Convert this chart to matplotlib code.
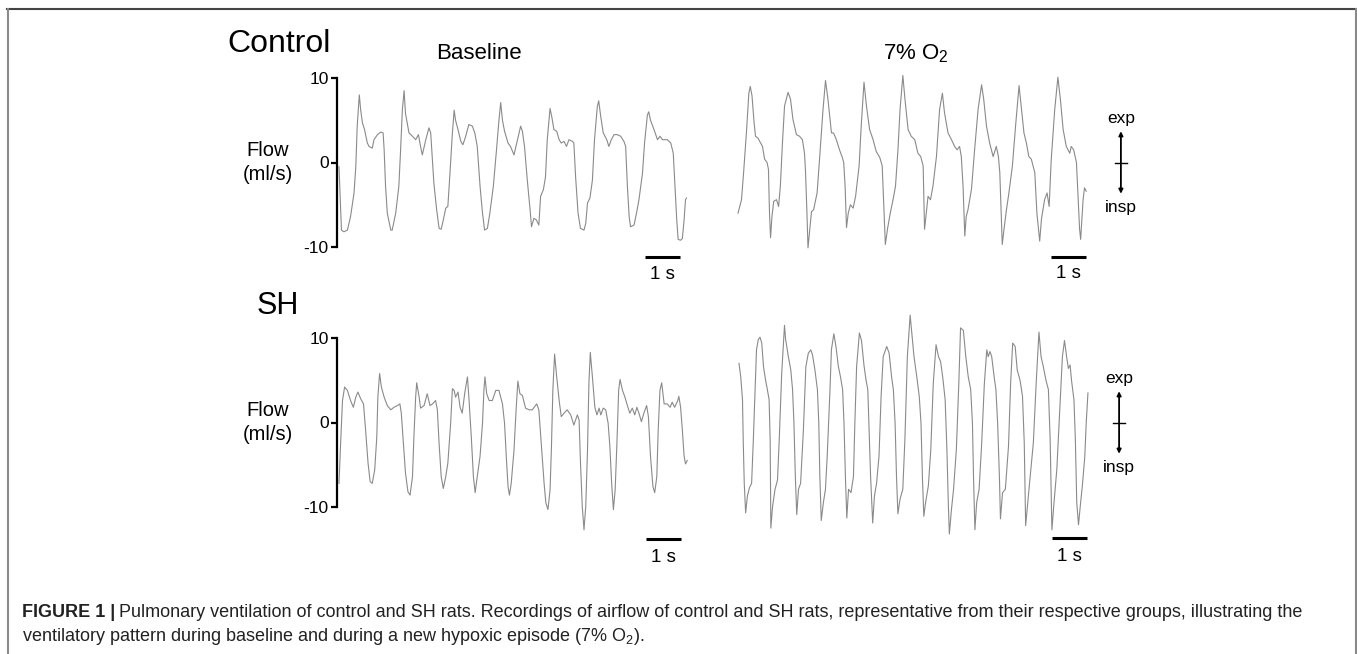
import matplotlib
matplotlib.use("Agg")
import matplotlib.pyplot as plt
from matplotlib.lines import Line2D
from matplotlib.transforms import Affine2D

plt.rcParams['font.family'] = ['Liberation Sans', 'DejaVu Sans']
plt.rcParams['mathtext.fontset'] = 'custom'
plt.rcParams['mathtext.rm'] = 'Liberation Sans'
plt.rcParams['axes.unicode_minus'] = False

# airflow traces: time (s), flow (ml/s)
ctrl_base_t = [0, 0.07, 0.14, 0.24, 0.33, 0.43, 0.48, 0.52, 0.58, 0.62, 0.67, 0.73, 0.81, 0.86, 0.95, 1.00,
               1.10, 1.19, 1.26, 1.29, 1.33, 1.38, 1.48, 1.52, 1.62, 1.71, 1.76, 1.81, 1.86, 1.90, 2.00, 2.10,
               2.19, 2.27, 2.33, 2.38, 2.48, 2.57, 2.62, 2.71, 2.79, 2.86, 2.92, 2.98, 3.05, 3.11, 3.17, 3.24,
               3.29, 3.33, 3.40, 3.48, 3.54, 3.62, 3.71, 3.81, 3.88, 3.95, 4.03, 4.10, 4.16, 4.24, 4.31, 4.41,
               4.50, 4.57, 4.62, 4.67, 4.73, 4.83, 4.90, 5.00, 5.10, 5.19, 5.24, 5.30, 5.38, 5.46, 5.50, 5.57,
               5.64, 5.71, 5.76, 5.84, 5.90, 5.95, 6.03, 6.08, 6.14, 6.22, 6.29, 6.35, 6.43, 6.50, 6.57, 6.67,
               6.71, 6.76, 6.83, 6.90, 7.00, 7.05, 7.10, 7.17, 7.24, 7.30, 7.38, 7.42, 7.48, 7.55, 7.65, 7.71,
               7.78, 7.86, 7.95, 8.05, 8.14, 8.19, 8.24, 8.29, 8.33, 8.43, 8.50, 8.57, 8.67, 8.73, 8.81, 8.85,
               8.90, 9.00, 9.10, 9.17, 9.24, 9.38, 9.48, 9.55, 9.60, 9.65, 9.69, 9.76, 9.81, 9.86, 9.90, 9.93]
ctrl_base_f = [-0.5, -8.0, -8.2, -8.0, -6.4, -3.6, -0.5, 4.3, 8.0, 6.2, 4.7, 3.9, 2.3, 1.9, 1.7, 2.7,
               3.3, 3.6, 3.5, 1.5, -2.8, -6.0, -8.0, -8.0, -6.0, -2.8, 1.5, 6.2, 8.5, 5.8, 3.5, 3.1,
               2.7, 3.3, 1.9, 0.9, 2.7, 4.1, 3.5, -2.4, -5.6, -7.8, -7.9, -6.8, -5.4, -5.2, -1.3, 3.5,
               6.2, 5.0, 3.9, 2.5, 2.1, 3.1, 4.5, 4.3, 3.5, 1.9, -2.8, -6.0, -8.0, -7.8, -6.0, -2.8,
               1.5, 5.0, 7.1, 5.0, 3.7, 2.3, 1.9, 0.9, 2.7, 4.3, 3.7, 1.9, -2.1, -5.6, -7.6, -6.6,
               -6.8, -7.4, -4.0, -3.2, -1.7, 2.7, 6.4, 5.4, 3.9, 3.7, 2.7, 2.3, 2.5, 1.9, 2.7, 2.5,
               2.3, -1.7, -6.0, -7.8, -8.0, -7.2, -4.8, -4.2, -2.1, 2.7, 6.6, 7.3, 5.4, 3.5, 2.7, 1.9,
               2.7, 3.3, 3.3, 3.1, 2.5, 1.9, -2.8, -6.4, -7.6, -7.4, -6.0, -4.4, -1.3, 2.3, 5.6, 6.0,
               5.0, 3.9, 2.7, 3.1, 2.7, 2.7, 2.3, 1.1, -2.8, -6.8, -9.1, -9.2, -9.0, -6.8, -4.4, -4.2]

ctrl_hyp_t = [0, 0.10, 0.16, 0.24, 0.31, 0.35, 0.40, 0.46, 0.50, 0.57, 0.62, 0.70, 0.76, 0.83, 0.87, 0.90,
              0.93, 0.97, 1.02, 1.10, 1.16, 1.21, 1.27, 1.33, 1.43, 1.50, 1.57, 1.67, 1.76, 1.84, 1.90, 1.93,
              1.97, 2.00, 2.05, 2.10, 2.16, 2.26, 2.33, 2.43, 2.50, 2.57, 2.67, 2.73, 2.81, 2.90, 2.98, 3.02,
              3.06, 3.10, 3.15, 3.21, 3.29, 3.36, 3.46, 3.52, 3.60, 3.67, 3.76, 3.86, 3.95, 4.05, 4.12, 4.17,
              4.21, 4.27, 4.35, 4.43, 4.50, 4.57, 4.63, 4.71, 4.77, 4.86, 4.95, 5.05, 5.14, 5.22, 5.29, 5.33,
              5.38, 5.43, 5.50, 5.57, 5.67, 5.76, 5.84, 5.90, 6.00, 6.10, 6.19, 6.26, 6.33, 6.38, 6.43, 6.48,
              6.52, 6.57, 6.67, 6.76, 6.86, 6.96, 7.02, 7.10, 7.19, 7.29, 7.38, 7.44, 7.48, 7.52, 7.55, 7.60,
              7.67, 7.74, 7.84, 7.93, 8.03, 8.10, 8.17, 8.24, 8.31, 8.38, 8.48, 8.54, 8.62, 8.67, 8.76, 8.83,
              8.89, 8.95, 9.05, 9.14, 9.21, 9.29, 9.38, 9.48, 9.52, 9.59, 9.67, 9.71, 9.76, 9.79, 9.86, 9.90,
              9.95]
ctrl_hyp_f = [-6.0, -4.4, -1.2, 3.5, 8.2, 9.0, 7.9, 4.7, 3.1, 2.9, 2.5, 1.9, 0.4, 0.0, -0.8, -6.0,
              -8.9, -6.4, -4.6, -4.4, -5.2, -2.8, 2.3, 6.7, 8.3, 7.5, 5.1, 3.3, 3.1, 2.7, 1.1, -1.2,
              -6.0, -10.1, -7.9, -5.8, -5.6, -3.6, 0.4, 6.3, 9.7, 7.5, 3.5, 3.5, 2.7, 1.5, 0.6, 0.0,
              -2.8, -7.7, -6.0, -5.0, -5.4, -4.0, -0.4, 4.3, 9.5, 6.7, 3.9, 2.7, 1.3, 0.6, -0.4, -5.6,
              -9.7, -7.9, -6.0, -4.4, -2.8, 1.5, 6.3, 10.3, 7.5, 3.9, 3.1, 2.7, 1.1, 0.7, -0.4, -7.9,
              -6.0, -4.0, -4.4, -2.8, 0.7, 6.3, 8.2, 5.9, 3.5, 2.7, 1.9, 1.5, 1.9, 0.7, -2.8, -8.7,
              -6.4, -5.6, -3.2, 1.5, 6.3, 9.2, 7.5, 4.3, 2.3, 0.7, 1.9, 0.7, -1.2, -6.0, -9.7, -7.9,
              -5.6, -3.6, -0.4, 4.3, 9.1, 6.3, 3.5, 2.3, 0.7, 0.4, -1.2, -6.0, -9.3, -6.7, -4.4, -3.6,
              -5.2, 0.4, 6.3, 10.1, 7.5, 3.9, 1.9, 1.1, 1.9, 1.5, 0.0, -3.6, -7.9, -9.1, -4.4, -3.0,
              -3.4]

sh_base_t = [0, 0.05, 0.10, 0.16, 0.24, 0.33, 0.41, 0.48, 0.54, 0.62, 0.70, 0.76, 0.83, 0.89, 0.95, 1.02,
             1.08, 1.11, 1.16, 1.21, 1.29, 1.38, 1.48, 1.57, 1.67, 1.74, 1.78, 1.84, 1.90, 1.97, 2.03, 2.10,
             2.14, 2.19, 2.22, 2.29, 2.33, 2.43, 2.52, 2.60, 2.67, 2.76, 2.81, 2.86, 2.92, 2.98, 3.05, 3.11,
             3.19, 3.24, 3.29, 3.33, 3.40, 3.46, 3.52, 3.59, 3.67, 3.71, 3.78, 3.84, 3.89, 3.95, 4.03, 4.10,
             4.14, 4.17, 4.22, 4.29, 4.38, 4.48, 4.57, 4.67, 4.73, 4.79, 4.83, 4.87, 4.92, 5.00, 5.06, 5.11,
             5.17, 5.24, 5.33, 5.43, 5.52, 5.65, 5.71, 5.78, 5.86, 5.91, 5.97, 6.03, 6.07, 6.11, 6.16, 6.22,
             6.29, 6.35, 6.43, 6.52, 6.62, 6.71, 6.81, 6.86, 6.90, 6.95, 7.00, 7.05, 7.10, 7.14, 7.18, 7.24,
             7.31, 7.37, 7.43, 7.48, 7.55, 7.62, 7.69, 7.74, 7.79, 7.84, 7.89, 7.94, 7.99, 8.03, 8.10, 8.17,
             8.24, 8.31, 8.38, 8.45, 8.51, 8.57, 8.64, 8.71, 8.79, 8.84, 8.90, 8.97, 9.02, 9.08, 9.12, 9.17,
             9.22, 9.29, 9.38, 9.46, 9.52, 9.59, 9.68, 9.71, 9.76, 9.81, 9.86, 9.90, 9.95]
sh_base_f = [-7.2, -2.1, 2.6, 4.2, 3.8, 2.6, 1.8, 3.0, 3.6, 2.8, 2.2, -0.9, -4.8, -7.0, -7.2, -5.6,
             -1.7, 3.0, 5.8, 4.2, 3.0, 2.0, 1.5, 1.8, 2.0, 2.2, 1.1, -2.5, -6.0, -8.2, -8.6, -6.4,
             -1.7, 3.0, 4.7, 3.0, 1.7, 2.0, 3.4, 2.0, 2.2, 2.6, 1.5, -2.5, -6.4, -7.8, -6.4, -4.8,
             -0.1, 4.0, 3.8, 3.0, 3.6, 1.8, 1.1, 3.4, 5.4, 3.0, -1.7, -6.4, -8.3, -6.4, -4.0, -0.1,
             3.8, 5.4, 3.4, 2.6, 2.6, 3.8, 3.8, 2.2, -0.1, -4.8, -7.6, -8.6, -7.2, -3.3, 1.5, 4.9,
             3.4, 3.2, 1.7, 1.5, 1.5, 2.2, 1.5, -2.5, -7.2, -9.5, -10.3, -8.0, -2.9, 3.8, 8.1, 5.4,
             2.6, 0.7, 1.1, 1.5, 0.9, -0.3, 0.9, 0.3, -4.8, -9.9, -12.7, -9.9, -3.3, 4.6, 8.3, 5.4,
             1.8, 0.9, 1.7, 0.9, 1.7, 1.5, -0.1, -2.9, -7.2, -10.3, -8.0, -2.5, 3.8, 5.1, 3.8, 3.0,
             2.0, 1.1, 1.7, 0.9, 1.8, 1.1, 0.1, 1.1, 2.0, 0.7, -4.0, -7.6, -8.3, -6.4, -0.9, 3.8,
             4.7, 2.2, 2.2, 1.8, 2.4, 1.8, 2.6, 3.1, 1.8, -0.9, -4.0, -4.9, -4.5]

sh_hyp_t = [0, 0.05, 0.10, 0.12, 0.15, 0.19, 0.24, 0.30, 0.36, 0.41, 0.46, 0.50, 0.55, 0.60, 0.65, 0.70,
            0.76, 0.81, 0.86, 0.89, 0.91, 0.96, 1.03, 1.10, 1.15, 1.22, 1.30, 1.33, 1.41, 1.48, 1.53, 1.57,
            1.61, 1.65, 1.70, 1.76, 1.84, 1.91, 1.98, 2.05, 2.10, 2.17, 2.24, 2.28, 2.31, 2.35, 2.41, 2.47,
            2.52, 2.60, 2.64, 2.71, 2.77, 2.84, 2.90, 2.96, 3.00, 3.04, 3.08, 3.13, 3.20, 3.27, 3.31, 3.36,
            3.44, 3.50, 3.57, 3.63, 3.68, 3.71, 3.76, 3.82, 3.87, 3.93, 4.00, 4.06, 4.12, 4.22, 4.29, 4.36,
            4.41, 4.46, 4.50, 4.54, 4.60, 4.68, 4.74, 4.81, 4.89, 4.93, 5.00, 5.08, 5.15, 5.20, 5.24, 5.28,
            5.33, 5.41, 5.48, 5.55, 5.63, 5.70, 5.76, 5.82, 5.89, 5.94, 5.98, 6.01, 6.07, 6.13, 6.21, 6.28,
            6.33, 6.41, 6.48, 6.55, 6.62, 6.67, 6.70, 6.74, 6.79, 6.86, 6.93, 7.01, 7.08, 7.12, 7.17, 7.22,
            7.29, 7.34, 7.39, 7.44, 7.47, 7.53, 7.61, 7.70, 7.76, 7.82, 7.89, 7.95, 8.03, 8.10, 8.15, 8.19,
            8.24, 8.31, 8.41, 8.49, 8.57, 8.63, 8.70, 8.77, 8.84, 8.89, 8.94, 9.00, 9.08, 9.17, 9.24, 9.30,
            9.36, 9.41, 9.46, 9.50, 9.57, 9.61, 9.65, 9.70, 9.76, 9.81, 9.88, 9.92, 9.97]
sh_hyp_f = [7.0, 5.4, 2.7, -2.0, -7.2, -10.7, -8.7, -7.7, -7.2, -2.0, 3.9, 8.6, 9.8, 10.1, 9.4, 6.6,
            5.0, 3.9, 2.7, -2.0, -12.5, -9.9, -7.9, -6.8, -2.0, 5.8, 11.5, 9.9, 7.8, 6.2, 3.9, -0.1,
            -6.4, -10.9, -7.9, -7.2, -0.9, 6.6, 8.2, 8.6, 8.0, 6.2, 3.9, -0.1, -6.4, -11.6, -9.5, -7.9,
            -4.0, 3.9, 8.6, 10.5, 9.0, 6.6, 5.4, 3.9, -0.1, -6.4, -11.3, -7.9, -8.3, -6.4, -0.1, 6.6,
            10.6, 9.7, 6.8, 5.0, 3.9, -0.1, -6.4, -11.9, -8.7, -7.2, -4.0, 3.1, 7.8, 9.0, 8.2, 5.4,
            3.9, -0.1, -6.4, -10.8, -9.1, -7.9, -2.0, 7.8, 12.7, 10.9, 7.8, 5.4, 3.1, -0.1, -6.4, -11.1,
            -9.5, -7.5, -3.2, 4.6, 9.2, 7.8, 7.2, 5.4, 2.7, -3.2, -9.5, -13.2, -10.3, -7.9, -3.2, 4.6,
            11.2, 10.9, 7.8, 5.4, 3.9, -0.1, -6.4, -12.7, -9.5, -7.9, -2.8, 4.6, 8.6, 7.8, 8.4, 7.8,
            5.4, 3.9, -0.1, -6.4, -11.4, -8.3, -7.9, -2.8, 4.6, 9.4, 9.0, 6.2, 5.0, 3.1, -2.4, -12.2,
            -9.9, -6.8, -2.4, 4.6, 10.7, 7.8, 6.5, 5.0, 3.9, -2.0, -12.7, -9.5, -5.6, 1.9, 7.8, 9.7,
            7.8, 6.4, 6.8, 5.0, 2.7, -2.0, -9.5, -12.1, -9.5, -7.5, -4.0, -0.1, 3.5]

yticks = [-10, 0, 10]
ytick_labels = ['-10', '0', '10']

W, H = 1357, 654
fig = plt.figure(figsize=(W / 100, H / 100), dpi=100)
px = Affine2D().scale(1 / W, -1 / H).translate(0, 1) + fig.transFigure

trace_color = '#8a8a8a'
PXS = 35.0  # pixels per second


def trace_axes(x0, y_top, y_bot, with_axis):
    ax = fig.add_axes([x0 / W, 1 - y_bot / H, 10.2 * PXS / W, (y_bot - y_top) / H])
    ax.set_xlim(-2 / PXS, 10.2 - 2 / PXS)
    ax.set_ylim(-10, 10)
    ax.patch.set_visible(False)
    for s in ['top', 'right', 'bottom']:
        ax.spines[s].set_visible(False)
    ax.set_xticks([])
    if with_axis:
        ax.spines['left'].set_linewidth(1.6)
        ax.set_yticks(yticks)
        ax.set_yticklabels(ytick_labels, fontsize=12.5)
        ax.tick_params(axis='y', length=4, width=1.6, pad=2)
    else:
        ax.spines['left'].set_visible(False)
        ax.set_yticks([])
    return ax


def scale_bar(ax, t0, y_bar, y_txt):
    ax.plot([t0, t0 + 1], [y_bar, y_bar], color='black', lw=2.2, clip_on=False, solid_capstyle='butt')
    ax.text(t0 + 0.5, y_txt, '1 s', ha='center', va='baseline', fontsize=13.5)


def exp_insp(ax, x):
    ax.annotate('', xy=(x, 3.7), xytext=(x, -3.7), annotation_clip=False,
                arrowprops=dict(arrowstyle='<|-|>', color='black', lw=1.3, mutation_scale=6,
                                shrinkA=0, shrinkB=0))
    ax.plot([x - 0.17, x + 0.17], [0, 0], color='black', lw=1.0, clip_on=False)
    ax.text(x, 4.7, 'exp', ha='center', va='baseline', fontsize=12.5)
    ax.text(x, -5.9, 'insp', ha='center', va='baseline', fontsize=12.5)


ax1 = trace_axes(337, 78, 247, True)
ax1.plot(ctrl_base_t, ctrl_base_f, color=trace_color, lw=0.8, clip_on=False)
scale_bar(ax1, 8.74, -11.2, -13.8)

ax2 = trace_axes(736, 78, 247, False)
ax2.plot(ctrl_hyp_t, ctrl_hyp_f, color=trace_color, lw=0.8, clip_on=False)
scale_bar(ax2, 8.94, -11.2, -13.7)
exp_insp(ax2, 10.94)

ax3 = trace_axes(337, 338, 507, True)
ax3.plot(sh_base_t, sh_base_f, color=trace_color, lw=0.8, clip_on=False)
scale_bar(ax3, 8.77, -13.8, -16.5)

ax4 = trace_axes(737, 338, 507, False)
ax4.plot(sh_hyp_t, sh_hyp_f, color=trace_color, lw=0.8, clip_on=False)
scale_bar(ax4, 8.94, -13.7, -16.4)
exp_insp(ax4, 10.86)

# headings and axis titles
fig.text(227, 52, 'Control', transform=px, fontsize=23, va='baseline')
fig.text(257, 314, 'SH', transform=px, fontsize=22, va='baseline')
fig.text(479, 59, 'Baseline', transform=px, fontsize=16, ha='center', va='baseline')
fig.text(916, 59, r'7% O$_\mathregular{2}$', transform=px, fontsize=16, ha='center', va='baseline')
for yb in (156, 416):
    fig.text(268, yb, 'Flow', transform=px, fontsize=14.5, ha='center', va='baseline')
    fig.text(268, yb + 24, '(ml/s)', transform=px, fontsize=14.5, ha='center', va='baseline')

# frame of the figure panel
fig.add_artist(Line2D([7, 1357], [8.5, 8.5], transform=px, color='#444444', lw=1.5))
fig.add_artist(Line2D([7.5, 7.5], [9, 654], transform=px, color='#8a8a8a', lw=1.5))
fig.add_artist(Line2D([1355.5, 1355.5], [9, 654], transform=px, color='#8a8a8a', lw=1.5))

# caption
cap_size = 13
bold = fig.text(22, 617, 'FIGURE 1 |', transform=px, fontsize=cap_size, fontweight='bold',
                va='baseline', color='#222222')
fig.canvas.draw()
bb = bold.get_window_extent(fig.canvas.get_renderer())
fig.text(bb.x1 + 4, 617,
         'Pulmonary ventilation of control and SH rats. Recordings of airflow of control and SH rats, '
         'representative from their respective groups, illustrating the',
         transform=px, fontsize=cap_size, va='baseline', color='#222222')
fig.text(22, 641, r'ventilatory pattern during baseline and during a new hypoxic episode (7% O$_\mathregular{2}$).',
         transform=px, fontsize=cap_size, va='baseline', color='#222222')

fig.savefig('out.png', dpi=100)
